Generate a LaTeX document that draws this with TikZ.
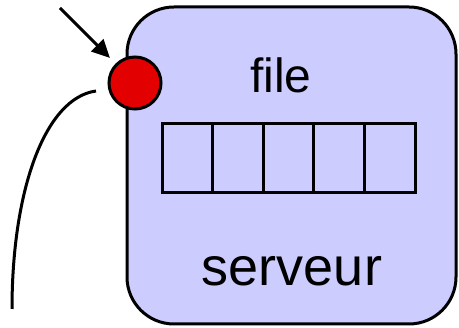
\documentclass[tikz,border=0pt]{standalone}
\usepackage{fontspec}
\setmainfont{Liberation Sans}
\usetikzlibrary{arrows.meta}
\definecolor{boxfill}{RGB}{204,204,255}
\definecolor{portred}{RGB}{227,0,0}
\begin{document}
\begin{tikzpicture}[x=1pt,y=-1pt,
  thick line/.style={line width=3pt},
  server/.style={thick line,draw=black,fill=boxfill,rounded corners=47pt},
  cell/.style={thick line,draw=black,minimum width=50.6pt,minimum height=69pt,inner sep=0pt,outer sep=0pt,anchor=north west},
  port/.style={circle,thick line,draw=black,fill=portred,minimum size=52pt,inner sep=0pt},
  label/.style={font=\fontsize{#1}{#1}\selectfont,anchor=base,inner sep=0pt},
  arrow/.style={thick line,-{Triangle[length=18pt,width=17pt]}}]
\useasboundingbox (0,0) rectangle (459,328);
\draw[server] (127,7) rectangle (456,324);
\node[cell] (c1) at (162,124) {};
\node[cell] (c2) at (c1.north east) {};
\node[cell] (c3) at (c2.north east) {};
\node[cell] (c4) at (c3.north east) {};
\node[cell] (c5) at (c4.north east) {};
\node[label=48pt] (file) at (281,93) {file};
\node[label=54pt] (serveur) at (292,286) {serveur};
\node[port] (p) at (135,83) {};
\coordinate (in) at (60,8);
\draw[arrow,shorten >=8pt] (in) -- (p);
\coordinate (outs) at (96,91);
\coordinate (oute) at (12,309);
\draw[thick line] (outs) .. controls (45,98) and (12,190) .. (oute);
\end{tikzpicture}
\end{document}
